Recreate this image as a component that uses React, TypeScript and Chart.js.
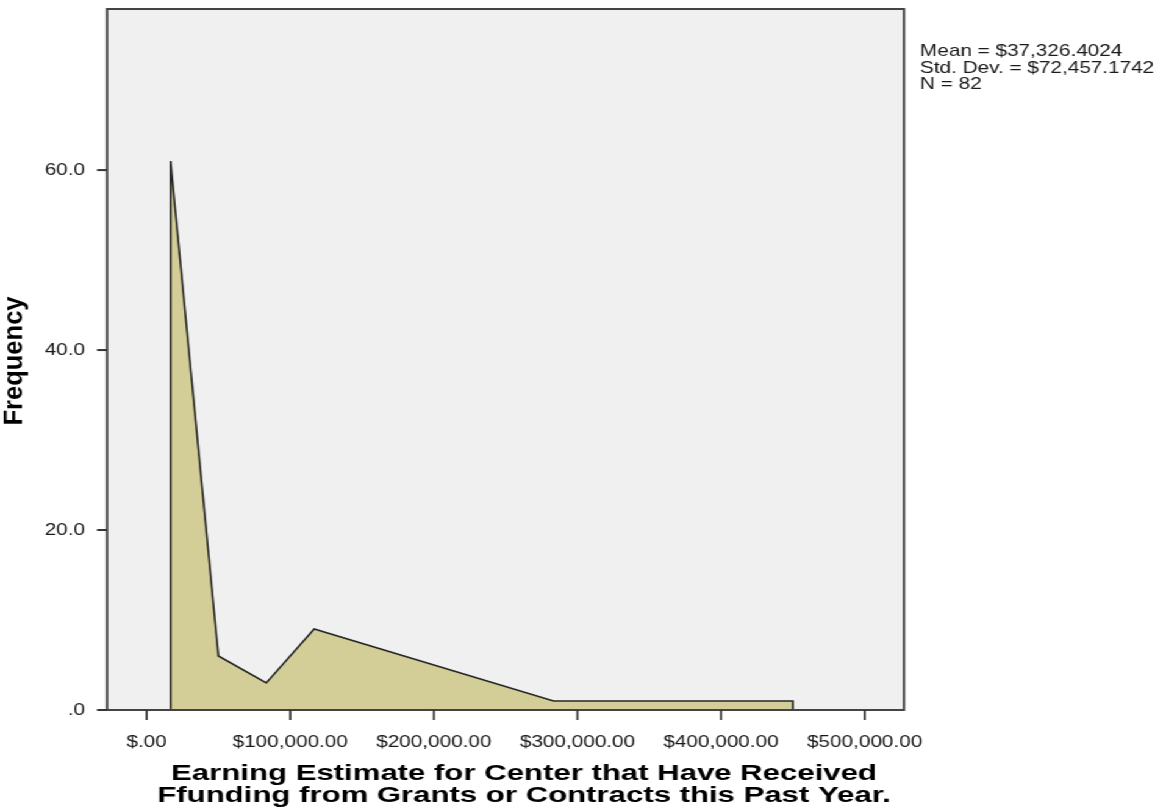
import React, { useEffect, useRef } from "react";
import { Chart, registerables } from "chart.js";

Chart.register(...registerables);

// ---- data ----
const binMidpoints = [16667, 16667, 50000, 83333, 116667, 283333, 450000, 450000];
const frequencies = [0, 61, 6, 3, 9, 1, 1, 0];
const xTickValues = [0, 100000, 200000, 300000, 400000, 500000];
const yTickValues = [0, 20, 40, 60];
const statsLines = ["Mean = $37,326.4024", "Std. Dev. = $72,457.1742", "N = 82"];
const xTitleLines = [
  "Earning Estimate for Center that Have Received",
  "Ffunding from Grants or Contracts this Past Year.",
];
const yTitleText = "Frequency";

// ---- layout (canvas is drawn narrower, then stretched horizontally) ----
const STRETCH = 1.22;
const W = Math.round(1166 / STRETCH);
const SX = 1166 / W;
const H = 810;
const PLOT_LEFT = 107 / SX;
const PLOT_RIGHT = 904 / SX;
const PLOT_TOP = 9;
const X_MIN = -27600;
const X_MAX = 527400;
const Y_MAX = 77.9;
const FONT = '"Liberation Sans", Arial, sans-serif';
const TITLE_FONT = `bold 22px ${FONT}`;
const TITLE_WIDEN = 1.16;

function fmtMoney(v: number): string {
  if (v === 0) return "$.00";
  const s = Math.round(v).toString().replace(/\B(?=(\d{3})+(?!\d))/g, ",");
  return "$" + s + ".00";
}
function fmtFreq(v: number): string {
  return v === 0 ? ".0" : v.toFixed(1);
}

const framePlugin = {
  id: "plotFrame",
  beforeDraw(chart: any) {
    const { ctx, chartArea } = chart;
    const { left, top, right, bottom } = chartArea;
    ctx.save();
    ctx.fillStyle = "#ffffff";
    ctx.fillRect(0, 0, chart.width, chart.height);
    ctx.fillStyle = "#f0f0f0";
    ctx.fillRect(left, top, right - left, bottom - top);
    ctx.restore();
  },
  afterDraw(chart: any) {
    const { ctx, chartArea, scales } = chart;
    const { left, top, right, bottom } = chartArea;
    ctx.save();
    // frame
    ctx.strokeStyle = "#444444";
    ctx.lineWidth = 2;
    ctx.strokeRect(left, top, right - left, bottom - top);
    // tick marks
    ctx.strokeStyle = "#333333";
    ctx.lineWidth = 1.7;
    xTickValues.forEach((v) => {
      const px = scales.x.getPixelForValue(v);
      ctx.beginPath();
      ctx.moveTo(px, bottom);
      ctx.lineTo(px, bottom + 10);
      ctx.stroke();
    });
    ctx.lineWidth = 2;
    yTickValues.forEach((v) => {
      const py = scales.y.getPixelForValue(v);
      ctx.beginPath();
      ctx.moveTo(left - 8.2, py);
      ctx.lineTo(left, py);
      ctx.stroke();
    });
    // stats box text
    ctx.fillStyle = "#1a1a1a";
    ctx.font = `17px ${FONT}`;
    ctx.textBaseline = "alphabetic";
    ctx.textAlign = "left";
    const x0 = 920 / SX;
    statsLines.forEach((t, i) => ctx.fillText(t, x0, 56 + i * 16.5));
    // x title (two lines, widened along the text)
    ctx.fillStyle = "#000000";
    ctx.font = TITLE_FONT;
    ctx.textAlign = "center";
    const cx = 524 / SX;
    const baselines = [780, 802.3];
    xTitleLines.forEach((t, i) => {
      ctx.save();
      ctx.translate(cx, baselines[i]);
      ctx.scale(TITLE_WIDEN, 1);
      ctx.fillText(t, 0, 0);
      ctx.restore();
    });
    // y title
    ctx.save();
    ctx.translate(14 / SX, (top + bottom) / 2 + 1.5);
    ctx.rotate(-Math.PI / 2);
    ctx.scale(TITLE_WIDEN, 1);
    ctx.textBaseline = "middle";
    ctx.fillText(yTitleText, 0, 0);
    ctx.restore();
    ctx.restore();
  },
};

export default function App() {
  const ref = useRef<HTMLCanvasElement | null>(null);
  useEffect(() => {
    if (!ref.current) return;
    const chart = new Chart(ref.current, {
      type: "line",
      data: {
        datasets: [
          {
            data: binMidpoints.map((x, i) => ({ x, y: frequencies[i] })),
            fill: "origin",
            backgroundColor: "#d3ce97",
            borderColor: "#262626",
            borderWidth: 1.6,
            pointRadius: 0,
            tension: 0,
          },
        ],
      },
      options: {
        animation: false,
        responsive: false,
        devicePixelRatio: 1,
        layout: { padding: { left: 0, top: PLOT_TOP, right: W - PLOT_RIGHT, bottom: 0 } },
        plugins: { legend: { display: false }, tooltip: { enabled: false } },
        scales: {
          x: {
            type: "linear",
            min: X_MIN,
            max: X_MAX,
            afterBuildTicks: (s: any) => {
              s.ticks = xTickValues.map((v) => ({ value: v }));
            },
            afterFit: (s: any) => {
              s.height = 100;
              s.paddingLeft = 0;
              s.paddingRight = 0;
            },
            ticks: {
              autoSkip: false,
              maxRotation: 0,
              callback: (v: any) => fmtMoney(Number(v)),
              font: { family: FONT, size: 17 },
              color: "#1a1a1a",
              padding: 14,
            },
            grid: { display: false },
            border: { display: false },
            title: { display: false },
          },
          y: {
            type: "linear",
            min: 0,
            max: Y_MAX,
            afterBuildTicks: (s: any) => {
              s.ticks = yTickValues.map((v) => ({ value: v }));
            },
            afterFit: (s: any) => {
              s.width = PLOT_LEFT;
              s.paddingTop = 0;
              s.paddingBottom = 0;
            },
            ticks: {
              callback: (v: any) => fmtFreq(Number(v)),
              font: { family: FONT, size: 17 },
              color: "#1a1a1a",
              padding: 10,
            },
            grid: { display: false },
            border: { display: false },
            title: { display: false },
          },
        },
      },
      plugins: [framePlugin],
    });
    return () => chart.destroy();
  }, []);

  return (
    <div
      style={{
        position: "fixed",
        left: 0,
        top: 0,
        width: W,
        height: H,
        transform: `scaleX(${SX})`,
        transformOrigin: "0 0",
        background: "#ffffff",
      }}
    >
      <canvas ref={ref} width={W} height={H} style={{ display: "block" }} />
    </div>
  );
}
